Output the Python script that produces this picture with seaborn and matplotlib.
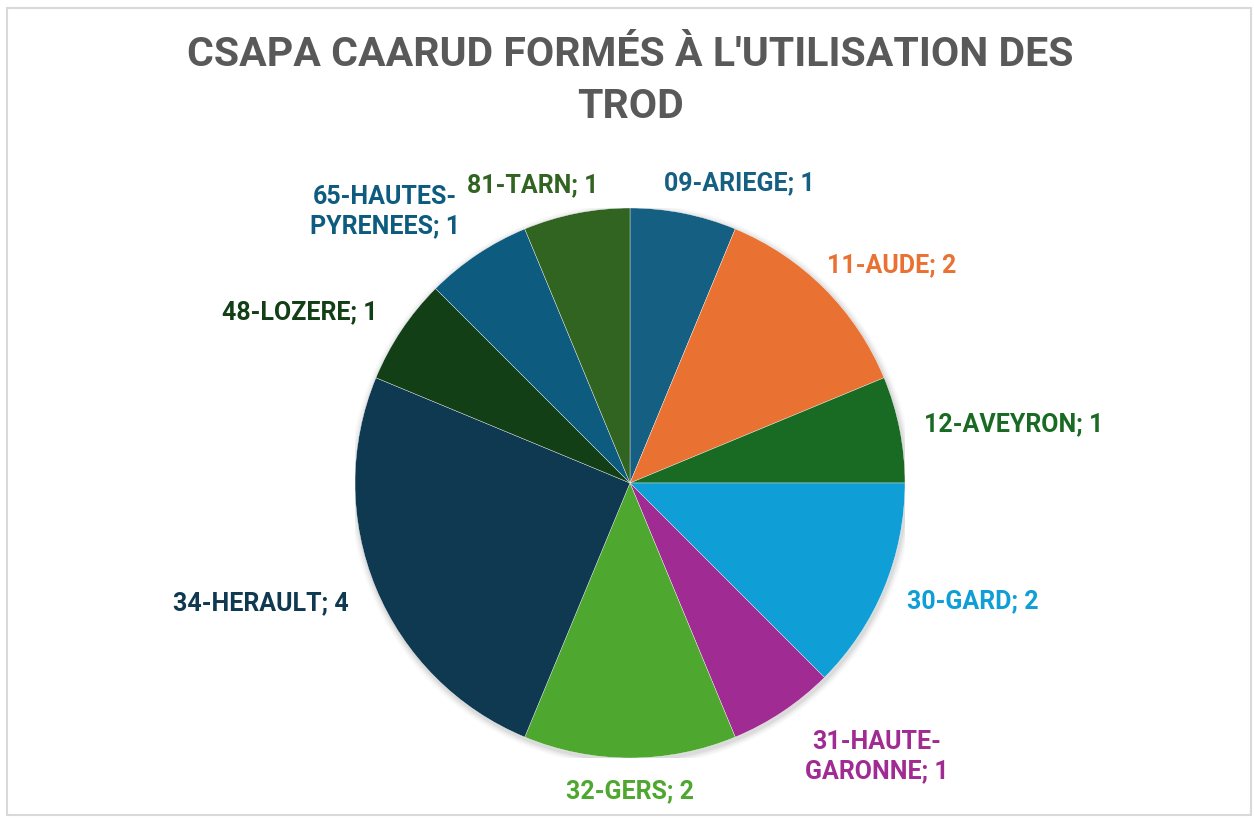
import numpy as np
import matplotlib
matplotlib.use("Agg")
import matplotlib.pyplot as plt
import seaborn as sns
from matplotlib.patches import Rectangle, Circle

sns.set_theme(style="white")
plt.rcParams['font.family'] = ['Roboto', 'DejaVu Sans']

# ---- data ----
departements = ["09-ARIEGE", "11-AUDE", "12-AVEYRON", "30-GARD", "31-HAUTE-\nGARONNE",
                "32-GERS", "34-HERAULT", "48-LOZERE", "65-HAUTES-\nPYRENEES", "81-TARN"]
valeurs = [1, 2, 1, 2, 1, 2, 4, 1, 1, 1]
couleurs = ["#156082", "#E97132", "#196B24", "#0F9ED5", "#A02B93",
            "#4EA72E", "#0E3950", "#133F16", "#0D5C80", "#316420"]
titre = "CSAPA CAARUD FORMÉS À L'UTILISATION DES\nTROD"

# label placement style (angular nudge in degrees, radial factor) - Excel "best fit" look
label_nudge = [-8.75, -5.2, -2.6, 3.5, 8.3, 0.0, -4.5, 6.4, 8.3, 6.8]
label_rad = [1.16, 1.24, 1.41, 1.32, 1.34, 1.12, 1.41, 1.35, 1.33, 1.14]

W, H = 1254, 823
fig = plt.figure(figsize=(W / 100, H / 100), dpi=100)
fig.patch.set_facecolor("white")

# frame
fig.add_artist(Rectangle((7 / W, 1 - 815 / H), (1251 - 7) / W, (815 - 8) / H,
                         transform=fig.transFigure, fill=False,
                         edgecolor="#D9D9D9", linewidth=1.5))

cx, cy, R = 630, 483, 275
ax = fig.add_axes([(cx - R) / W, 1 - (cy + R) / H, 2 * R / W, 2 * R / H])
ax.axis("off")

# soft shadow
for i, a in enumerate([0.05, 0.04, 0.03, 0.02]):
    ax.add_patch(Circle((0.004, -0.008), 1.0 + 0.006 * (i + 1), color="black",
                        alpha=a, lw=0, zorder=0))

wedges, _ = ax.pie(valeurs, colors=couleurs, startangle=90, counterclock=False,
                   radius=1.0, wedgeprops=dict(edgecolor="white", linewidth=0.25))
for w in wedges:
    w.set_zorder(2)
ax.set_xlim(-1, 1)
ax.set_ylim(-1, 1)
ax.set_aspect("equal")

for w, lab, v, col, dn, rr in zip(wedges, departements, valeurs, couleurs, label_nudge, label_rad):
    mid = np.deg2rad((w.theta1 + w.theta2) / 2 + dn)
    ax.text(rr * np.cos(mid), rr * np.sin(mid), f"{lab}; {v}", color=col,
            ha="center", va="center", multialignment="center",
            fontsize=18, fontweight="bold", linespacing=1.25, clip_on=False)

fig.text(630 / W, 1 - 81 / H, titre, ha="center", va="center",
         fontsize=29.5, fontweight="bold", color="#595959",
         family=["Roboto", "DejaVu Sans"], linespacing=1.45)

fig.savefig("out.png", dpi=100, facecolor="white")
